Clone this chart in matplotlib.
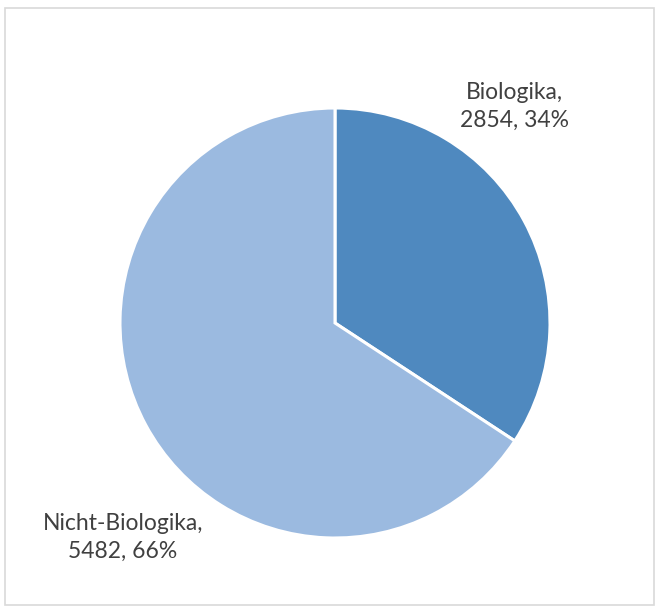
import matplotlib.pyplot as plt
from matplotlib.patches import Rectangle

# data
categories = ["Biologika", "Nicht-Biologika"]
counts = [2854, 5482]
colors = ["#4F89BF", "#9BBAE0"]

W, H = 659, 607
fig = plt.figure(figsize=(W / 100, H / 100), dpi=100)
fig.patches.append(Rectangle((5 / W, 2 / H), 649 / W, 597 / H, transform=fig.transFigure,
                             fill=False, edgecolor="#D9D9D9", linewidth=1.2))

cx, cy, r = 335, 323, 215
ax = fig.add_axes([(cx - r) / W, (H - cy - r) / H, 2 * r / W, 2 * r / H])
ax.pie(counts, colors=colors, startangle=90, counterclock=False, radius=1,
       wedgeprops=dict(edgecolor="white", linewidth=2.2))
ax.set_xlim(-1, 1)
ax.set_ylim(-1, 1)
ax.set_aspect("equal")
ax.axis("off")

total = sum(counts)
label_pos = [(514, 106), (123, 537)]
for name, n, (px, py) in zip(categories, counts, label_pos):
    pct = round(100 * n / total)
    fig.text(px / W, 1 - py / H, f"{name},\n{n}, {pct}%", ha="center", va="center",
             fontsize=16.5, color="#404040", family=["Lato", "DejaVu Sans"], linespacing=1.4)

fig.savefig("out.png", dpi=100)
